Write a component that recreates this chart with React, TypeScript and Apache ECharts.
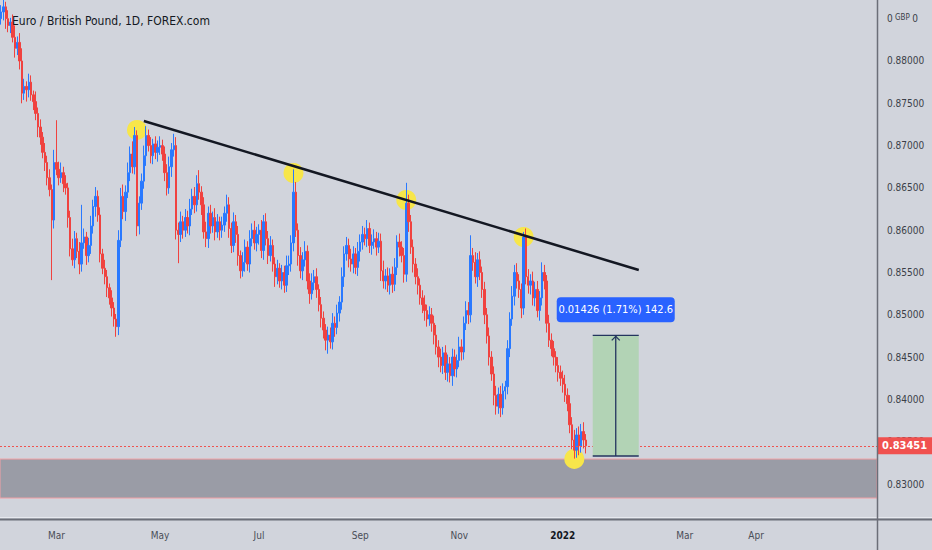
import React, { useEffect, useRef } from "react";
import * as echarts from "echarts";

// ---- data (prices in pips, 1 pip = 0.0001) ----
const firstOpen = 8850;
const closes = [
  8858, 8864, 8850, 8842, 8846, 8828, 8815, 8822, 8800, 8762,
  8770, 8766, 8775, 8760, 8752, 8738, 8722, 8710, 8692, 8680,
  8662, 8648, 8612, 8680, 8672, 8662, 8668, 8655, 8650, 8615,
  8578, 8565, 8590, 8575, 8560, 8585, 8592, 8570, 8582, 8605,
  8628, 8640, 8618, 8572, 8555, 8545, 8532, 8520, 8508, 8495,
  8486, 8588, 8640, 8622, 8645, 8668, 8690, 8675, 8712, 8605,
  8632, 8658, 8688, 8712, 8700, 8688, 8702, 8692, 8698, 8700,
  8690, 8668, 8650, 8675, 8695, 8700, 8600, 8595, 8610, 8600,
  8615, 8605, 8625, 8640, 8630, 8655, 8645, 8630, 8598, 8590,
  8620, 8605, 8615, 8598, 8610, 8600, 8606, 8620, 8630, 8602,
  8582, 8610, 8595, 8570, 8552, 8562, 8580, 8560, 8590, 8600,
  8585, 8595, 8600, 8576, 8610, 8590, 8570, 8582, 8560, 8545,
  8555, 8540, 8550, 8535, 8558, 8560, 8585, 8645, 8600, 8570,
  8552, 8565, 8575, 8540, 8525, 8538, 8545, 8530, 8512, 8496,
  8482, 8470, 8476, 8468, 8490, 8485, 8502, 8515, 8545, 8572,
  8582, 8566, 8560, 8572, 8556, 8575, 8586, 8595, 8590, 8602,
  8582, 8586, 8590, 8580, 8587, 8552, 8540, 8546, 8535, 8548,
  8536, 8556, 8586, 8580, 8570, 8548, 8632, 8610, 8580, 8560,
  8545, 8535, 8520, 8512, 8505, 8495, 8500, 8490, 8476, 8462,
  8450, 8440, 8455, 8432, 8442, 8428, 8450, 8436, 8446, 8462,
  8456, 8490, 8505, 8500, 8570, 8562, 8545, 8565, 8550, 8530,
  8500, 8475, 8450, 8430, 8405, 8392, 8406, 8390, 8410, 8415,
  8460, 8495, 8522, 8550, 8540, 8530, 8508, 8592, 8545, 8535,
  8540, 8520, 8530, 8505, 8520, 8550, 8540, 8490, 8470, 8460,
  8450, 8440, 8432, 8425, 8418, 8405, 8395, 8370, 8352, 8340,
  8358, 8345, 8362, 8352, 8345.1,
];
const upperWicks = [
  8, 12, 6, 10, 5, 9, 14, 7, 11, 15,
  9, 6, 10, 8, 5, 12, 7, 9, 6, 11,
  8, 10, 6, 15, 50, 9, 12, 7, 10, 6,
  8, 12, 9, 7, 11, 45, 10, 6, 9, 12,
  8, 11, 7, 9, 6, 10, 8, 5, 9, 7,
  6, 12, 10, 14, 8, 12, 9, 15, 10, 6,
  8, 9, 12, 11, 7, 10, 6, 9, 8, 11,
  7, 9, 10, 12, 8, 14, 10, 9, 12, 7,
  10, 8, 12, 9, 11, 10, 16, 7, 9, 12,
  8, 10, 7, 11, 9, 6, 10, 8, 12, 9,
  7, 11, 8, 10, 6, 12, 9, 7, 10, 8,
  11, 9, 7, 12, 8, 10, 9, 11, 7, 8,
  10, 6, 9, 8, 12, 10, 9, 27, 12, 8,
  10, 9, 12, 7, 9, 11, 8, 10, 6, 9,
  8, 7, 10, 9, 12, 8, 10, 7, 11, 9,
  10, 8, 12, 9, 7, 11, 9, 10, 8, 10,
  7, 9, 11, 8, 10, 9, 12, 8, 10, 7,
  9, 11, 8, 10, 7, 9, 24, 10, 8, 9,
  7, 10, 8, 9, 11, 7, 10, 8, 9, 12,
  8, 10, 7, 9, 11, 8, 10, 9, 7, 12,
  9, 8, 11, 10, 24, 9, 12, 8, 10, 7,
  9, 8, 10, 7, 9, 11, 8, 10, 9, 7,
  10, 8, 12, 9, 11, 8, 7, 6, 10, 9,
  8, 11, 9, 10, 8, 12, 9, 7, 10, 8,
  9, 7, 10, 8, 9, 11, 8, 10, 9, 12,
  8, 10, 9, 11, 7,
];
const lowerWicks = [
  7, 10, 12, 8, 9, 6, 11, 8, 10, 12,
  8, 14, 9, 7, 10, 8, 12, 9, 7, 10,
  9, 8, 71, 10, 7, 9, 6, 10, 8, 12,
  9, 7, 10, 8, 12, 9, 7, 11, 8, 10,
  9, 12, 8, 10, 7, 9, 11, 8, 10, 9,
  12, 10, 8, 9, 11, 7, 10, 8, 9, 12,
  10, 8, 9, 12, 7, 9, 10, 8, 11, 9,
  8, 10, 9, 7, 12, 8, 11, 34, 9, 10,
  8, 9, 11, 7, 10, 8, 9, 12, 8, 10,
  11, 9, 8, 10, 7, 12, 9, 8, 10, 11,
  9, 8, 10, 12, 9, 7, 11, 8, 10, 9,
  8, 10, 12, 9, 11, 8, 10, 7, 9, 12,
  9, 8, 10, 9, 8, 11, 9, 10, 8, 12,
  9, 11, 8, 10, 12, 7, 9, 10, 8, 11,
  10, 12, 16, 8, 9, 11, 8, 10, 9, 12,
  8, 10, 9, 11, 8, 10, 12, 9, 8, 10,
  9, 11, 8, 10, 7, 12, 9, 10, 8, 11,
  10, 8, 9, 11, 8, 10, 9, 12, 8, 10,
  9, 11, 8, 10, 12, 9, 8, 10, 11, 9,
  12, 8, 10, 9, 11, 8, 12, 9, 10, 8,
  10, 9, 8, 11, 9, 10, 8, 12, 9, 10,
  11, 9, 10, 8, 12, 10, 9, 11, 8, 10,
  9, 10, 8, 11, 9, 10, 12, 8, 9, 10,
  11, 9, 10, 8, 12, 9, 10, 11, 8, 9,
  10, 8, 11, 9, 10, 8, 9, 10, 11, 10,
  9, 11, 8, 10, 9,
];

const yTicks = [0.83, 0.835, 0.84, 0.845, 0.85, 0.855, 0.86, 0.865, 0.87, 0.875, 0.88, 0.885];
const timeTickDates = ["2021-03-01", "2021-05-03", "2021-07-01", "2021-09-01", "2021-11-01", "2022-01-03", "2022-03-01", "2022-04-01"];
const timeTickLabels = ["Mar", "May", "Jul", "Sep", "Nov", "2022", "Mar", "Apr"];

// drawings: [barIndex, price]
const trendLine = [[62, 0.87291], [277, 0.8553]];
const touchPoints = [[59, 0.87185], [127, 0.86676], [176, 0.86357], [227, 0.8592], [249, 0.83296]];
const supportZone = [0.83295, 0.82834];
const lastPrice = 0.83451;
const measure = [[257, 277, 0.83331, 0.84757]];

const START_DATE = Date.UTC(2021, 0, 26);
const TOTAL_SLOTS = 381;
const Y_MIN = 0.825863;
const Y_MAX = 0.88721;

const NARROW = "'Liberation Sans Narrow', 'DejaVu Sans Condensed', 'Liberation Sans', sans-serif";

function fmtDate(d: Date) {
  const m = String(d.getUTCMonth() + 1).padStart(2, "0");
  const dd = String(d.getUTCDate()).padStart(2, "0");
  return `${d.getUTCFullYear()}-${m}-${dd}`;
}

function buildCategories(nBars: number) {
  const out: string[] = [];
  let t = START_DATE;
  while (out.length < nBars) {
    const d = new Date(t);
    const wd = d.getUTCDay();
    if (wd !== 0 && wd !== 6) out.push(fmtDate(d));
    t += 86400000;
  }
  while (out.length < TOTAL_SLOTS) {
    out.push(fmtDate(new Date(t)));
    t += 86400000;
  }
  return out;
}

export default function App() {
  const ref = useRef<HTMLDivElement>(null);
  useEffect(() => {
    document.body.style.margin = "0";
    if (!ref.current) return;
    const chart = echarts.init(ref.current, undefined, { renderer: "svg" });
    const categories = buildCategories(closes.length);
    const P = 0.0001;
    const candles = closes.map((c, i) => {
      const o = i === 0 ? firstOpen : closes[i - 1];
      const hi = Math.max(o, c) + upperWicks[i];
      const lo = Math.min(o, c) - lowerWicks[i];
      return [o * P, c * P, lo * P, hi * P];
    });
    const axisColor = "#6b6e78";
    const option: any = {
      animation: false,
      backgroundColor: "#d1d4dc",
      title: {
        text: "Euro / British Pound, 1D, FOREX.com",
        left: 7,
        top: 10,
        textStyle: { fontSize: 12, fontWeight: "normal", color: "#131722", fontFamily: NARROW },
      },
      grid: { left: 0, right: 55, top: 0, bottom: 31 },
      xAxis: {
        type: "category",
        data: categories,
        boundaryGap: true,
        axisLine: { show: false },
        axisTick: { show: false },
        splitLine: { show: false },
        axisLabel: {
          interval: (_i: number, v: string) => timeTickDates.includes(v),
          formatter: (v: string) => {
            const k = timeTickDates.indexOf(v);
            if (k < 0) return "";
            const t = timeTickLabels[k];
            return /^\d{4}$/.test(t) ? `{b|${t}}` : t;
          },
          color: "#4a4e58",
          fontSize: 10,
          fontFamily: NARROW,
          margin: 11,
          rich: { b: { fontWeight: "bold", color: "#131722", fontSize: 10, fontFamily: NARROW } },
        },
      },
      yAxis: {
        type: "value",
        position: "right",
        min: Y_MIN,
        max: Y_MAX,
        scale: true,
        splitLine: { show: false },
        axisLine: { show: false },
        axisTick: { show: false, customValues: yTicks },
        axisLabel: {
          customValues: yTicks,
          margin: 10,
          color: "#3b3f48",
          fontSize: 10,
          fontFamily: NARROW,
          formatter: (v: number) => (Math.abs(v - 0.885) < 1e-9 ? "{n|0}{g| GBP }{n|0}" : v.toFixed(5)),
          rich: {
            n: { fontSize: 10, color: "#3b3f48", fontFamily: NARROW },
            g: { fontSize: 8, color: "#3b3f48", fontFamily: NARROW, padding: [0, 0, 3, 0] },
          },
        },
      },
      series: [
        {
          type: "scatter",
          z: 1,
          data: touchPoints,
          symbol: "circle",
          symbolSize: 20,
          itemStyle: { color: "#f7e64a", opacity: 1 },
          silent: true,
          markArea: {
            silent: true,
            itemStyle: { color: "#9a9ca6", borderColor: "#f2a0a6", borderWidth: 1 },
            data: [[{ yAxis: supportZone[0] }, { yAxis: supportZone[1] }]],
          },
          markLine: {
            silent: true,
            precision: 5,
            symbol: ["none", "none"],
            lineStyle: { color: "#ef5350", type: [2, 2], width: 1 },
            label: {
              position: "end",
              distance: 0,
              formatter: () => lastPrice.toFixed(5),
              backgroundColor: "#f0514f",
              color: "#ffffff",
              fontSize: 11,
              fontWeight: "bold",
              fontFamily: NARROW,
              padding: [3, 5, 3, 5],
            },
            data: [{ yAxis: lastPrice }],
          },
        },
        {
          type: "candlestick",
          z: 3,
          data: candles,
          barWidth: "85%",
          itemStyle: {
            color: "#2979ff",
            color0: "#f0423f",
            borderColor: "#2979ff",
            borderColor0: "#f0423f",
            borderWidth: 1,
          },
        },
        {
          type: "line",
          z: 4,
          data: trendLine,
          symbol: "none",
          lineStyle: { color: "#131722", width: 2.5 },
          silent: true,
        },
        {
          type: "custom",
          z: 5,
          data: measure,
          encode: { x: [0, 1], y: [2, 3] },
          renderItem: (_p: any, api: any) => {
            const low = api.value(2);
            const high = api.value(3);
            const lt = api.coord([api.value(0), high]);
            const rb = api.coord([api.value(1), low]);
            const x0 = lt[0], x1 = rb[0], yT = lt[1], yB = rb[1];
            const cx = (x0 + x1) / 2;
            const diff = high - low;
            const text = `${diff.toFixed(5)} (${((diff / low) * 100).toFixed(2)}%) ${(diff / 0.0001).toFixed(1)}`;
            const stroke = "#24355f";
            return {
              type: "group",
              children: [
                { type: "rect", shape: { x: x0, y: yT, width: x1 - x0, height: yB - yT }, style: { fill: "#b2d3b5" } },
                { type: "line", shape: { x1: x0, y1: yT, x2: x1, y2: yT }, style: { stroke, lineWidth: 1.3 } },
                { type: "line", shape: { x1: x0, y1: yB, x2: x1, y2: yB }, style: { stroke, lineWidth: 1.3 } },
                { type: "line", shape: { x1: cx, y1: yB, x2: cx, y2: yT }, style: { stroke, lineWidth: 1.3 } },
                { type: "polyline", shape: { points: [[cx - 4, yT + 5], [cx, yT + 1], [cx + 4, yT + 5]] }, style: { stroke, lineWidth: 1.3, fill: "none" } },
                { type: "rect", shape: { x: cx - 59, y: yT - 38, width: 118, height: 25, r: 4 }, style: { fill: "#2962ff" } },
                {
                  type: "text",
                  style: {
                    text,
                    x: cx,
                    y: yT - 25.5,
                    align: "center",
                    verticalAlign: "middle",
                    fill: "#ffffff",
                    font: `11px ${NARROW}`,
                  },
                },
              ],
            };
          },
        },
      ],
      graphic: [
        { type: "line", z: 10, shape: { x1: 0, y1: 517.5, x2: 932, y2: 517.5 }, style: { stroke: "#e6e8ee", lineWidth: 1 } },
        { type: "line", z: 10, shape: { x1: 0, y1: 519.5, x2: 932, y2: 519.5 }, style: { stroke: axisColor, lineWidth: 2 } },
        { type: "line", z: 10, shape: { x1: 877.5, y1: 0, x2: 877.5, y2: 550 }, style: { stroke: axisColor, lineWidth: 1.5 } },
      ],
    };
    chart.setOption(option);
    return () => chart.dispose();
  }, []);
  return <div ref={ref} style={{ width: 932, height: 550, background: "#d1d4dc" }} />;
}
